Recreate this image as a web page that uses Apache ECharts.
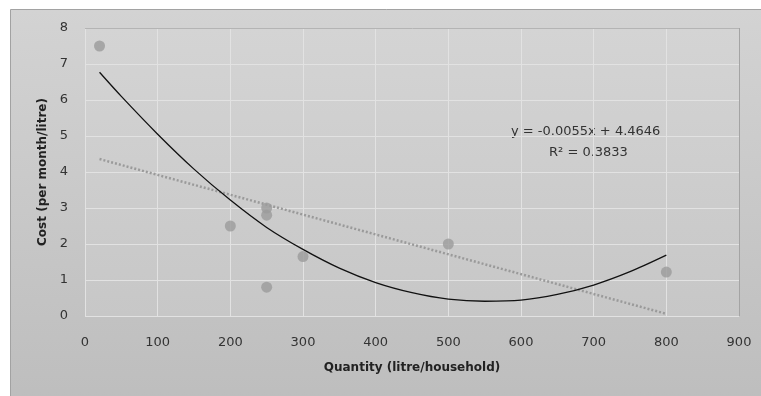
<!DOCTYPE html>
<html>
<head>
<meta charset="utf-8">
<script src="https://cdn.jsdelivr.net/npm/echarts@6/dist/echarts.min.js"></script>
<style>
  html, body { margin: 0; padding: 0; background: #fff; }
  #chart { width: 761px; height: 396px; }
</style>
</head>
<body>
<div id="chart"></div>
<script>
  // observed points (quantity, cost)
  const quantity = [20, 200, 250, 250, 250, 300, 500, 800]
  const cost = [7.5, 2.5, 3.0, 2.8, 0.8, 1.65, 2.0, 1.22]

  // linear trendline ends
  const linearTrend = [[20, 4.36], [800, 0.06]]

  // polynomial trendline
  const polyX = [20, 50, 100, 150, 200, 250, 300, 350, 400, 450, 500, 550, 600, 650, 700, 750, 800]
  const polyY = [6.77, 6.1, 5.05, 4.08, 3.22, 2.46, 1.85, 1.33, 0.93, 0.65, 0.47, 0.41, 0.44, 0.6, 0.86, 1.23, 1.69]

  const xTicks = [0, 100, 200, 300, 400, 500, 600, 700, 800, 900]
  const yTicks = [0, 1, 2, 3, 4, 5, 6, 7, 8]

  const eqLine1 = 'y = -0.0055x + 4.4646'
  const eqLine2 = 'R² = 0.3833'

  const font = 'DejaVu Sans'
  const myChart = echarts.init(document.getElementById('chart'))

  const grad = (a, b) => new echarts.graphic.LinearGradient(0, 0, 0, 1, [
    { offset: 0, color: a },
    { offset: 1, color: b }
  ])

  myChart.setOption({
    animation: false,
    backgroundColor: '#ffffff',
    grid: {
      left: 85,
      top: 28,
      right: 22,
      bottom: 80,
      show: true,
      backgroundColor: grad('#d4d4d4', '#c7c7c7'),
      borderWidth: 0
    },
    graphic: [
      {
        type: 'rect',
        z: -10,
        shape: { x: 10.5, y: 9.5, width: 760, height: 400 },
        style: { fill: grad('#d3d3d3', '#bdbdbd'), stroke: '#a2a2a2', lineWidth: 1 }
      },
      {
        type: 'line',
        z: 5,
        shape: { x1: 85, y1: 28.5, x2: 739.5, y2: 28.5 },
        style: { stroke: '#b4b4b4', lineWidth: 1 }
      },
      {
        type: 'line',
        z: 5,
        shape: { x1: 739.5, y1: 28, x2: 739.5, y2: 316 },
        style: { stroke: '#a4a4a4', lineWidth: 1 }
      },
      {
        type: 'text',
        left: 511,
        top: 125,
        style: { text: eqLine1, font: '13px "' + font + '"', fill: '#333' }
      },
      {
        type: 'text',
        left: 549,
        top: 146,
        style: { text: eqLine2, font: '13px "' + font + '"', fill: '#333' }
      }
    ],
    xAxis: {
      type: 'value',
      min: xTicks[0],
      max: xTicks[xTicks.length - 1],
      interval: 100,
      name: 'Quantity (litre/household)',
      nameLocation: 'middle',
      nameGap: 46,
      nameTextStyle: { fontFamily: font, fontWeight: 'bold', fontSize: 12, color: '#222' },
      axisLine: { show: false },
      axisTick: { show: false },
      axisLabel: { margin: 20, fontFamily: font, fontSize: 13, color: '#333' },
      splitLine: { show: true, lineStyle: { color: '#e2e2e2', width: 1 } }
    },
    yAxis: {
      type: 'value',
      min: yTicks[0],
      max: yTicks[yTicks.length - 1],
      interval: 1,
      name: 'Cost (per month/litre)',
      nameLocation: 'middle',
      nameGap: 36,
      nameTextStyle: { fontFamily: font, fontWeight: 'bold', fontSize: 12, color: '#222' },
      axisLine: { show: false },
      axisTick: { show: false },
      axisLabel: { margin: 17, fontFamily: font, fontSize: 13, color: '#333' },
      splitLine: { show: true, lineStyle: { color: '#e2e2e2', width: 1 } }
    },
    series: [
      {
        type: 'line',
        data: linearTrend,
        symbol: 'none',
        lineStyle: { color: '#9a9a9a', width: 2.5, type: [2, 2] },
        z: 2
      },
      {
        type: 'line',
        data: polyX.map((x, i) => [x, polyY[i]]),
        smooth: 0.3,
        symbol: 'none',
        lineStyle: { color: '#111', width: 1.3 },
        z: 3
      },
      {
        type: 'scatter',
        data: quantity.map((x, i) => [x, cost[i]]),
        symbolSize: 11,
        itemStyle: { color: '#9b9b9b' },
        z: 4
      }
    ]
  })
</script>
</body>
</html>
